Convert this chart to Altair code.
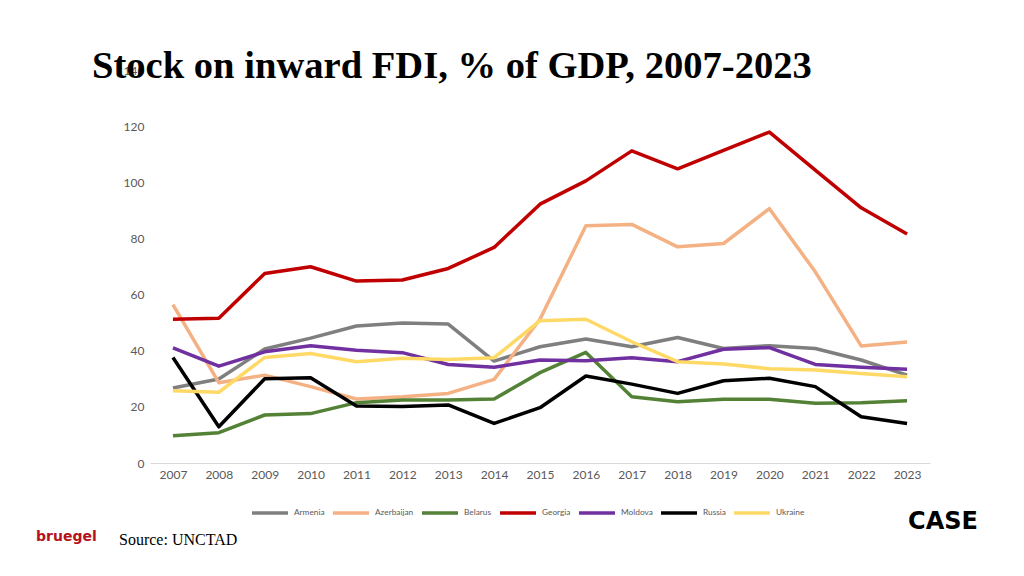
import altair as alt
import pandas as pd

years = list(range(2007, 2024))
countries = ["Armenia", "Azerbaijan", "Belarus", "Georgia", "Moldova", "Russia", "Ukraine"]
colors = ["#7f7f7f", "#f4b183", "#538135", "#c00000", "#7030a0", "#000000", "#ffd966"]

armenia = [26.7, 29.9, 40.6, 44.5, 48.8, 49.9, 49.5, 36.3, 41.4, 44.2, 41.4, 44.7, 40.8, 41.8, 40.8, 36.7, 31.3]
azerbaijan = [56.4, 28.6, 31.3, 27.2, 22.8, 23.6, 24.8, 29.8, 51.2, 84.5, 85.0, 77.0, 78.2, 90.6, 68.1, 41.7, 43.1]
belarus = [9.7, 10.8, 17.1, 17.6, 21.5, 22.4, 22.4, 22.8, 32.2, 39.4, 23.6, 21.8, 22.7, 22.7, 21.3, 21.5, 22.2]
georgia = [51.2, 51.6, 67.5, 69.9, 64.8, 65.2, 69.3, 76.8, 92.2, 100.5, 111.2, 104.8, 111.4, 117.9, 104.3, 90.9, 81.6]
moldova = [41.0, 34.5, 39.6, 41.8, 40.2, 39.3, 35.1, 34.1, 36.7, 36.4, 37.5, 36.1, 40.5, 41.1, 35.1, 34.1, 33.4]
russia = [37.6, 12.9, 30.0, 30.4, 20.3, 20.1, 20.7, 14.1, 19.7, 31.0, 28.1, 24.8, 29.3, 30.2, 27.2, 16.5, 14.1]
ukraine = [25.7, 25.2, 37.6, 39.0, 36.1, 37.3, 36.9, 37.5, 50.7, 51.2, 43.2, 36.1, 35.3, 33.6, 33.1, 31.9, 30.7]

title_text = "Stock on inward FDI, % of GDP, 2007-2023"
source_text = "Source: UNCTAD"

series = [armenia, azerbaijan, belarus, georgia, moldova, russia, ukraine]
rows = []
for name, vals in zip(countries, series):
    for y, v in zip(years, vals):
        rows.append({"year": str(y), "country": name, "value": v})
df = pd.DataFrame(rows)

lines = alt.Chart(df).mark_line(strokeWidth=3.5, strokeJoin="round").encode(
    x=alt.X("year:O", scale=alt.Scale(type="point", padding=0.5),
            axis=alt.Axis(title=None, labelAngle=0, ticks=False, domainColor="#d9d9d9",
                          domainWidth=1, labelFont="Lato", labelFontSize=12,
                          labelColor="#595959", labelPadding=6)),
    y=alt.Y("value:Q", scale=alt.Scale(domain=[0, 140], nice=False),
            axis=alt.Axis(title=None, values=[0, 20, 40, 60, 80, 100, 120, 140], grid=False,
                          ticks=False, domain=False, labelFont="Lato", labelFontSize=12,
                          labelColor="#595959", labelPadding=6)),
    color=alt.Color("country:N", scale=alt.Scale(domain=countries, range=colors),
                    legend=alt.Legend(title=None, orient="none", legendX=100, legendY=423,
                                      direction="horizontal", columns=7,
                                      symbolType="stroke", symbolSize=1296,
                                      symbolStrokeWidth=3.5, labelFont="Lato",
                                      labelFontSize=8.3, labelColor="#595959",
                                      columnPadding=1, labelOffset=4)),
    order=alt.Order("year:O"),
)

title = alt.Chart(pd.DataFrame({"t": [title_text]})).mark_text(
    font="Liberation Serif", fontSize=38.6, fontWeight="bold", color="#000000",
    align="left", baseline="alphabetic").encode(
    x=alt.value(-58), y=alt.value(8), text="t:N")

source = alt.Chart(pd.DataFrame({"t": [source_text]})).mark_text(
    font="Liberation Serif", fontSize=16, color="#000000",
    align="left", baseline="alphabetic").encode(
    x=alt.value(-31), y=alt.value(475), text="t:N")

bruegel = alt.Chart(pd.DataFrame({"t": ["bruegel"]})).mark_text(
    font="DejaVu Sans", fontWeight="bold", fontSize=14,
    color="#b5121b", align="left", baseline="alphabetic").encode(
    x=alt.value(-114), y=alt.value(471), text="t:N")

caselogo = alt.Chart(pd.DataFrame({"t": ["CASE"]})).mark_text(
    font="DejaVu Sans", fontWeight="bold", fontSize=24,
    color="#000000", align="center", baseline="middle").encode(
    x=alt.value(793), y=alt.value(452), text="t:N")

chart = alt.layer(lines, title, source, bruegel, caselogo).properties(
    width=780, height=393,
    autosize=alt.AutoSizeParams(type="none"),
    padding={"left": 142, "top": 62, "right": 86, "bottom": 105},
).configure_view(stroke=None)

chart.save("out.html", embed_options={"renderer": "svg", "actions": False})
